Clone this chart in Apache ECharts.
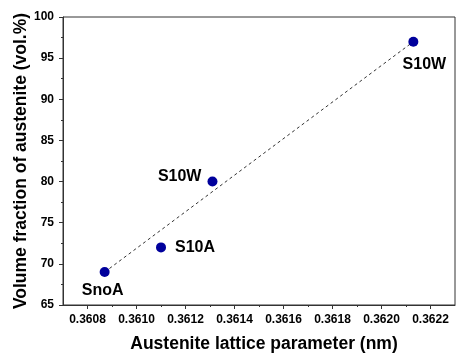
<!DOCTYPE html>
<html>
<head>
<meta charset="utf-8">
<script src="https://cdn.jsdelivr.net/npm/echarts@6/dist/echarts.min.js"></script>
<style>
html,body{margin:0;padding:0;background:#fff;}
#c{width:470px;height:361px;}
</style>
</head>
<body>
<div id="c"></div>
<script>
// ---- data ----
const sampleNames = ['SnoA', 'S10A', 'S10W', 'S10W'];
const latticeParam = [0.36087, 0.36110, 0.36131, 0.36213];
const austeniteFrac = [69, 72, 80, 97];
const fitX = [0.36087, 0.36213];
const fitY = [69, 97];
const xTickLabels = [0.3608, 0.3610, 0.3612, 0.3614, 0.3616, 0.3618, 0.3620, 0.3622];
const xMinorTicks = [0.3609, 0.3611, 0.3613, 0.3615, 0.3617, 0.3619, 0.3621];

// ---- styles ----
const FONT = '"Liberation Sans", Arial, sans-serif';
const labelLayout = [
  {position: 'bottom', distance: 6, offset: [-2, 0]},
  {position: 'right', distance: 9, offset: [0, 0]},
  {position: 'left', distance: 6, offset: [0, -5]},
  {position: 'bottom', distance: 10, offset: [11, 0]}
];

const chart = echarts.init(document.getElementById('c'), null, {renderer: 'canvas'});

const scatterData = latticeParam.map((x, i) => ({
  value: [x, austeniteFrac[i]],
  name: sampleNames[i],
  label: Object.assign({show: true, formatter: sampleNames[i]}, labelLayout[i])
}));

const option = {
  animation: false,
  backgroundColor: '#fff',
  grid: {left: 63, right: 15, top: 17, bottom: 56, outerBoundsMode: 'none', containLabel: false, show: true, borderColor: '#333', borderWidth: 1, backgroundColor: 'transparent'},
  xAxis: [{
    type: 'value',
    min: 0.3607,
    max: 0.3623,
    name: 'Austenite lattice parameter (nm)',
    nameLocation: 'middle',
    nameGap: 30,
    nameMoveOverlap: false,
    nameTextStyle: {fontFamily: FONT, fontWeight: 'bold', fontSize: 17.5, color: '#000', padding: [0, 0, 0, 10]},
    axisLine: {show: true, onZero: false, lineStyle: {color: '#333', width: 1}},
    axisTick: {show: true, inside: false, length: 4, customValues: xTickLabels, lineStyle: {color: '#333'}},
    axisLabel: {show: true, margin: 9, customValues: xTickLabels, formatter: v => Number(v).toFixed(4), fontFamily: FONT, fontWeight: 'bold', fontSize: 12, color: '#000'},
    splitLine: {show: false}
  }, {
    type: 'value',
    position: 'bottom',
    min: 0.3607,
    max: 0.3623,
    axisLine: {show: false, onZero: false},
    axisTick: {show: true, inside: false, length: 2, customValues: xMinorTicks, lineStyle: {color: '#333'}},
    axisLabel: {show: false},
    splitLine: {show: false}
  }],
  yAxis: {
    type: 'value',
    min: 65,
    max: 100,
    interval: 5,
    name: 'Volume fraction of austenite (vol.%)',
    nameLocation: 'middle',
    nameGap: 33,
    nameMoveOverlap: false,
    nameTextStyle: {fontFamily: FONT, fontWeight: 'bold', fontSize: 17.5, color: '#000'},
    axisLine: {show: true, onZero: false, lineStyle: {color: '#333', width: 1}},
    axisTick: {show: true, inside: false, length: 4, lineStyle: {color: '#333'}},
    minorTick: {show: true, splitNumber: 2, length: 2, lineStyle: {color: '#333'}},
    axisLabel: {margin: 9, fontFamily: FONT, fontWeight: 'bold', fontSize: 12, color: '#000'},
    splitLine: {show: false}
  },
  series: [{
    type: 'line',
    data: fitX.map((x, i) => [x, fitY[i]]),
    showSymbol: false,
    symbol: 'none',
    lineStyle: {color: '#333', width: 1, type: [3, 3]},
    z: 1,
    silent: true
  }, {
    type: 'scatter',
    data: scatterData,
    symbol: 'circle',
    symbolSize: 10,
    itemStyle: {color: '#00009c', opacity: 1},
    label: {fontFamily: FONT, fontWeight: 'bold', fontSize: 16, color: '#000', opacity: 1},
    z: 3
  }]
};
chart.setOption(option);
</script>
</body>
</html>
